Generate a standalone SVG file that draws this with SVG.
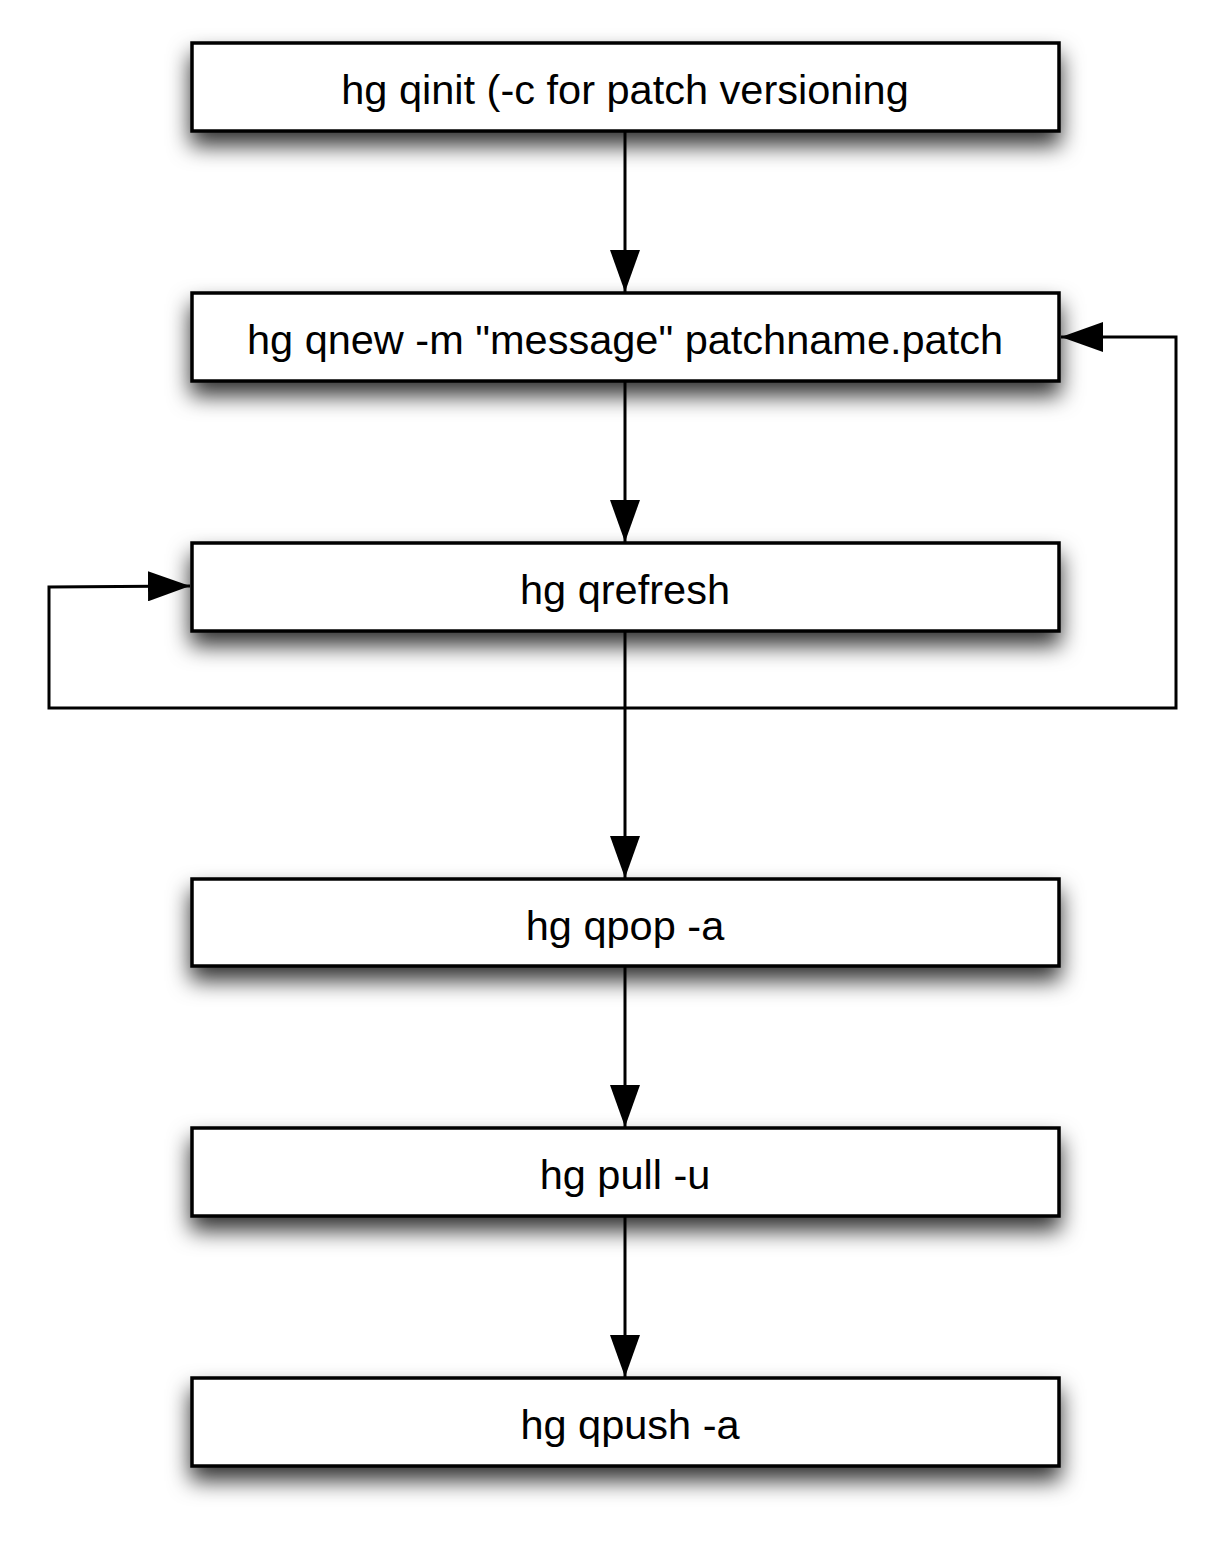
<svg xmlns="http://www.w3.org/2000/svg" width="1220" height="1567" viewBox="0 0 1220 1567">
<defs>
<filter id="sh" x="-10%" y="-40%" width="120%" height="200%">
<feDropShadow dx="0" dy="13" stdDeviation="11" flood-color="#000" flood-opacity="0.8"/>
</filter>
<marker id="ah" viewBox="0 0 42 30" refX="42" refY="15" markerWidth="42" markerHeight="30" markerUnits="userSpaceOnUse" orient="auto">
<path d="M0,0 L42,15 L0,30 Z" fill="#000"/>
</marker>
</defs>
<style>
.box{fill:#fff;stroke:#000;stroke-width:3.5}
.lbl{font-family:"Liberation Sans",Arial,sans-serif;font-size:41.5px;fill:#000;text-anchor:middle}
.con{fill:none;stroke:#000;stroke-width:3}
</style>
<rect width="1220" height="1567" fill="#fff"/>
<g id="n1"><rect class="box" x="192" y="43" width="867" height="88" filter="url(#sh)"/><text class="lbl" x="625" y="104">hg qinit (-c for patch versioning</text></g>
<g id="n2"><rect class="box" x="192" y="293" width="867" height="88" filter="url(#sh)"/><text class="lbl" x="625" y="354">hg qnew -m "message" patchname.patch</text></g>
<g id="n3"><rect class="box" x="192" y="543" width="867" height="88" filter="url(#sh)"/><text class="lbl" x="625" y="604">hg qrefresh</text></g>
<g id="n4"><rect class="box" x="192" y="879" width="867" height="87" filter="url(#sh)"/><text class="lbl" x="625" y="940">hg qpop -a</text></g>
<g id="n5"><rect class="box" x="192" y="1128" width="867" height="88" filter="url(#sh)"/><text class="lbl" x="625" y="1189">hg pull -u</text></g>
<g id="n6"><rect class="box" x="192" y="1378" width="867" height="88" filter="url(#sh)"/><text class="lbl" x="630" y="1439">hg qpush -a</text></g>
<g id="connectors">
<line class="con" x1="625" y1="131" x2="625" y2="292" marker-end="url(#ah)"/>
<line class="con" x1="625" y1="381" x2="625" y2="542" marker-end="url(#ah)"/>
<line class="con" x1="625" y1="631" x2="625" y2="878" marker-end="url(#ah)"/>
<line class="con" x1="625" y1="966" x2="625" y2="1127" marker-end="url(#ah)"/>
<line class="con" x1="625" y1="1216" x2="625" y2="1377" marker-end="url(#ah)"/>
<polyline class="con" points="625,708 1176,708 1176,337 1061,337" marker-end="url(#ah)"/>
<polyline class="con" points="625,708 49,708 49,587 190,586" marker-end="url(#ah)"/>
</g>
</svg>
